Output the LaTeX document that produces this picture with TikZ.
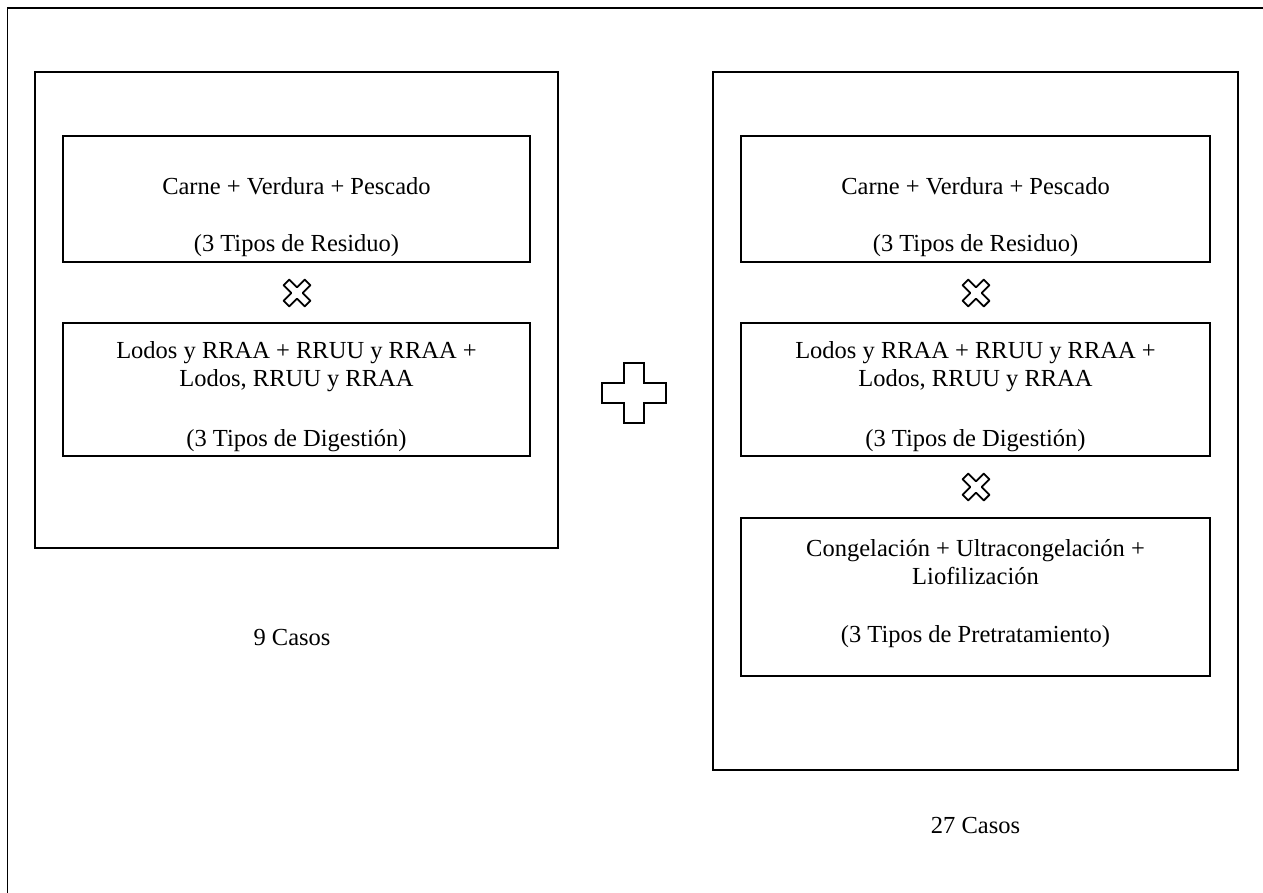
\documentclass[tikz,border=0pt]{standalone}
\usepackage{fontspec}
\setmainfont{Liberation Serif}
\begin{document}
\begin{tikzpicture}[x=1pt,y=-1pt,
  box/.style={draw=black,line width=1.6pt,inner sep=0pt},
  txt/.style={inner sep=0pt,font=\fontsize{24.5}{28}\selectfont,align=center},
  timesmark/.style={draw=black,line width=1.8pt,fill=white,line join=round},
  plusmark/.style={draw=black,line width=1.8pt,fill=white}]
\useasboundingbox (0,0) rectangle (1263,893);
\coordinate (fa) at (7.5,893);
\coordinate (fb) at (7.5,8);
\coordinate (fc) at (1263,8);
\draw[line width=1.8pt] (fa) -- (fb) -- (fc);
% left column
\node[box,minimum width=523,minimum height=476] (L) at (296.5,310) {};
\node[box,minimum width=467,minimum height=126] (L1) at (296.5,199) {};
\node[box,minimum width=467,minimum height=133] (L2) at (296.5,389.5) {};
\node[txt] (L1a) at (296.5,186) {Carne + Verdura + Pescado};
\node[txt] (L1b) at (296.5,246) {(3 Tipos de Residuo)};
\node[txt] (L2a) at (296.5,367) {Lodos y RRAA + RRUU y RRAA +\\Lodos, RRUU y RRAA};
\node[txt] (L2b) at (296.5,441) {(3 Tipos de Digestión)};
\node[txt] (Lc) at (292,638) {9 Casos};
% right column
\node[box,minimum width=525,minimum height=698] (R) at (975.5,421) {};
\node[box,minimum width=469,minimum height=126] (R1) at (975.5,199) {};
\node[box,minimum width=469,minimum height=133] (R2) at (975.5,389.5) {};
\node[box,minimum width=469,minimum height=158] (R3) at (975.5,597) {};
\node[txt] (R1a) at (975.5,186) {Carne + Verdura + Pescado};
\node[txt] (R1b) at (975.5,246) {(3 Tipos de Residuo)};
\node[txt] (R2a) at (975.5,367) {Lodos y RRAA + RRUU y RRAA +\\Lodos, RRUU y RRAA};
\node[txt] (R2b) at (975.5,441) {(3 Tipos de Digestión)};
\node[txt] (R3a) at (975.5,562) {Congelación + Ultracongelación +\\Liofilización};
\node[txt] (R3b) at (975.5,637) {(3 Tipos de Pretratamiento)};
\node[txt] (Rc) at (975.5,826) {27 Casos};
% cross marks
\foreach \cx/\cy in {297/293, 976/293, 976/487}{
  \begin{scope}[shift={(\cx,\cy)},rotate=45]
    \draw[timesmark] (4,15) -- (4,4) -- (15,4) -- (15,-4) -- (4,-4) -- (4,-15)
      -- (-4,-15) -- (-4,-4) -- (-15,-4) -- (-15,4) -- (-4,4) -- (-4,15) -- cycle;
  \end{scope}
}
% plus mark
\begin{scope}[shift={(634,393)}]
  \draw[plusmark] (10,-30) -- (10,-10) -- (32,-10) -- (32,10) -- (10,10) -- (10,30)
    -- (-10,30) -- (-10,10) -- (-32,10) -- (-32,-10) -- (-10,-10) -- (-10,-30) -- cycle;
\end{scope}
\end{tikzpicture}
\end{document}
